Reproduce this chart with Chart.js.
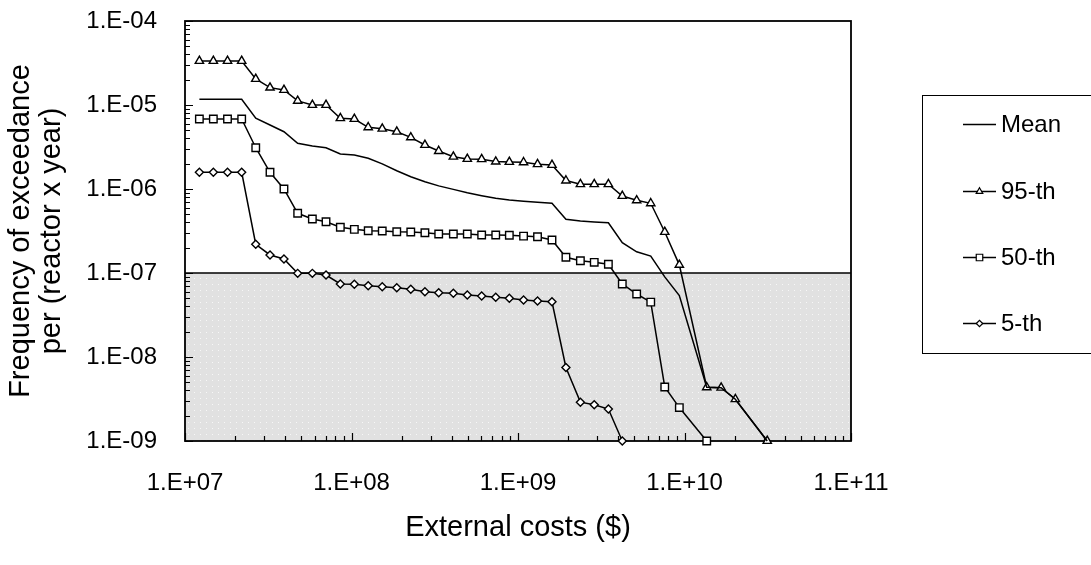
<!DOCTYPE html>
<html><head><meta charset="utf-8">
<script src="https://cdn.jsdelivr.net/npm/chart.js@4.4.1/dist/chart.umd.min.js"></script>
<style>html,body{margin:0;padding:0;background:#fff}#wrap{width:1091px;height:565px;position:relative}</style>
</head><body><div id="wrap"><canvas id="c" width="1091" height="565"></canvas></div>
<script>
// External costs ($) – shared x values of the points
const costs = [1.22e7, 1.48e7, 1.80e7, 2.19e7, 2.66e7, 3.24e7, 3.93e7, 4.75e7, 5.82e7, 7.03e7,
  8.57e7, 1.04e8, 1.26e8, 1.53e8, 1.87e8, 2.27e8, 2.76e8, 3.34e8, 4.09e8, 4.96e8,
  6.05e8, 7.35e8, 8.87e8, 1.08e9, 1.31e9, 1.60e9, 1.94e9, 2.37e9, 2.87e9, 3.49e9,
  4.23e9, 5.16e9, 6.27e9, 7.61e9, 9.31e9, 1.13e10, 1.36e10, 1.66e10, 2.02e10, 2.47e10, 3.14e10];
const mean = [1.17e-5, 1.17e-5, 1.17e-5, 1.17e-5, 6.95e-6, 5.78e-6, 4.81e-6, 3.50e-6, 3.25e-6, 3.10e-6,
  2.61e-6, 2.54e-6, 2.32e-6, 1.99e-6, 1.65e-6, 1.40e-6, 1.22e-6, 1.09e-6, 9.9e-7, 9.03e-7,
  8.32e-7, 7.74e-7, 7.39e-7, 7.14e-7, 6.95e-7, 6.76e-7, 4.36e-7, 4.16e-7, 4.05e-7, 3.97e-7,
  2.30e-7, 1.79e-7, 1.59e-7, 9.0e-8, 5.4e-8, null, 4.36e-9, 4.31e-9, 3.14e-9, null, 1.0e-9];
const p95 = [3.34e-5, 3.34e-5, 3.34e-5, 3.34e-5, 2.04e-5, 1.61e-5, 1.51e-5, 1.12e-5, 1.0e-5, 1.0e-5,
  6.95e-6, 6.81e-6, 5.43e-6, 5.22e-6, 4.81e-6, 4.12e-6, 3.34e-6, 2.83e-6, 2.42e-6, 2.28e-6,
  2.26e-6, 2.12e-6, 2.10e-6, 2.08e-6, 1.97e-6, 1.93e-6, 1.26e-6, 1.14e-6, 1.14e-6, 1.14e-6,
  8.26e-7, 7.33e-7, 6.76e-7, 3.08e-7, 1.25e-7, null, 4.36e-9, 4.31e-9, 3.14e-9, null, 1.0e-9];
const p50 = [6.81e-6, 6.81e-6, 6.81e-6, 6.81e-6, 3.10e-6, 1.58e-6, 1.0e-6, 5.14e-7, 4.39e-7, 4.08e-7,
  3.50e-7, 3.31e-7, 3.19e-7, 3.16e-7, 3.10e-7, 3.08e-7, 3.02e-7, 2.91e-7, 2.91e-7, 2.91e-7,
  2.83e-7, 2.83e-7, 2.81e-7, 2.75e-7, 2.70e-7, 2.47e-7, 1.54e-7, 1.40e-7, 1.34e-7, 1.27e-7,
  7.40e-8, 5.62e-8, 4.5e-8, 4.4e-9, 2.5e-9, null, 1.0e-9, null, null, null, null];
const p5 = [1.58e-6, 1.58e-6, 1.58e-6, 1.58e-6, 2.20e-7, 1.64e-7, 1.47e-7, 9.9e-8, 9.9e-8, 9.46e-8,
  7.40e-8, 7.35e-8, 7.06e-8, 6.86e-8, 6.68e-8, 6.40e-8, 5.99e-8, 5.83e-8, 5.75e-8, 5.47e-8,
  5.32e-8, 5.14e-8, 5.00e-8, 4.77e-8, 4.65e-8, 4.55e-8, 7.5e-9, 2.9e-9, 2.7e-9, 2.4e-9,
  1.0e-9, null, null, null, null, null, null, null, null, null, null];

const seriesNames = ['Mean', '95-th', '50-th', '5-th'];
const xTickValues = [1e7, 1e8, 1e9, 1e10, 1e11];
const xTickLabels = ['1.E+07', '1.E+08', '1.E+09', '1.E+10', '1.E+11'];
const yTickValues = [1e-9, 1e-8, 1e-7, 1e-6, 1e-5, 1e-4];
const yTickLabels = ['1.E-09', '1.E-08', '1.E-07', '1.E-06', '1.E-05', '1.E-04'];
const threshold = 1e-7;
const xTitle = 'External costs ($)';
const yTitle = ['Frequency of exceedance', 'per (reactor x year)'];

const FONT = '"Liberation Sans", Arial, sans-serif';

function pts(ys) {
  const out = [];
  costs.forEach((x, i) => { if (ys[i] !== null) out.push({x: x, y: ys[i]}); });
  return out;
}

function ds(label, ys, style, radius, legendRadius) {
  return {
    label: label, data: pts(ys), showLine: true, borderColor: '#000', borderWidth: 1.5,
    pointStyle: style, pointRadius: style ? radius : 0, pointHoverRadius: style ? radius : 0,
    pointBackgroundColor: '#fff', pointBorderColor: '#000', pointBorderWidth: 1.4,
    clip: false, tension: 0, spanGaps: true, legendRadius: legendRadius
  };
}

// dotted grey pattern for the region below the threshold
function makePattern(ctx) {
  const p = document.createElement('canvas');
  p.width = 6; p.height = 6;
  const g = p.getContext('2d');
  g.fillStyle = '#e1e1e1'; g.fillRect(0, 0, 6, 6);
  g.fillStyle = '#f7f7f7'; g.fillRect(2, 2, 1, 1);
  return ctx.createPattern(p, 'repeat');
}

const decorPlugin = {
  id: 'decor',
  beforeDatasetsDraw(chart) {
    const {ctx, chartArea: a, scales: {x, y}} = chart;
    ctx.save();
    const ty = y.getPixelForValue(threshold);
    ctx.fillStyle = makePattern(ctx);
    ctx.fillRect(a.left, ty, a.right - a.left, a.bottom - ty);
    ctx.strokeStyle = '#000';
    ctx.lineWidth = 1.5;
    ctx.beginPath(); ctx.moveTo(a.left, ty); ctx.lineTo(a.right, ty); ctx.stroke();
    // frame
    ctx.lineWidth = 1.8;
    ctx.strokeRect(a.left, a.top, a.right - a.left, a.bottom - a.top);
    // inside tick marks (major + minor) positioned by the scales
    ctx.lineWidth = 1.2;
    ctx.beginPath();
    for (let e = 7; e < 11; e++) {
      for (let m = 1; m <= 10; m++) {
        const px = Math.round(x.getPixelForValue(m * Math.pow(10, e))) + 0.5;
        const len = (m === 1 || m === 10) ? 8 : 5;
        ctx.moveTo(px, a.bottom); ctx.lineTo(px, a.bottom - len);
      }
    }
    for (let e = -9; e < -4; e++) {
      for (let m = 1; m <= 10; m++) {
        const py = Math.round(y.getPixelForValue(m * Math.pow(10, e))) + 0.5;
        const len = (m === 1 || m === 10) ? 8 : 5;
        ctx.moveTo(a.left, py); ctx.lineTo(a.left + len, py);
      }
    }
    ctx.stroke();
    ctx.restore();
  },
  afterDraw(chart) {
    const {ctx} = chart;
    ctx.save();
    // legend box
    ctx.strokeStyle = '#000';
    ctx.lineWidth = 1;
    ctx.strokeRect(922.5, 95.5, 200, 258);
    const rows = [124, 191, 257, 323];
    ctx.font = '24px ' + FONT;
    ctx.textBaseline = 'middle';
    ctx.textAlign = 'left';
    chart.data.datasets.forEach((d, i) => {
      const yy = rows[i] + 0.5;
      ctx.strokeStyle = '#000'; ctx.lineWidth = 1.4;
      ctx.beginPath(); ctx.moveTo(963, yy); ctx.lineTo(996, yy); ctx.stroke();
      if (d.pointStyle) {
        ctx.fillStyle = '#fff'; ctx.lineWidth = 1.2;
        Chart.helpers.drawPoint(ctx, {pointStyle: d.pointStyle, radius: d.legendRadius, borderWidth: 1.2, rotation: 0}, 979.5, yy);
      }
      ctx.fillStyle = '#000';
      ctx.fillText(d.label, 1001, rows[i] + 1);
    });
    ctx.restore();
  }
};

new Chart(document.getElementById('c'), {
  type: 'scatter',
  data: {
    datasets: [
      ds(seriesNames[0], mean, false, 0, 0),
      ds(seriesNames[1], p95, 'triangle', 4.8, 3.8),
      ds(seriesNames[2], p50, 'rect', 5.3, 4.6),
      ds(seriesNames[3], p5, 'rectRot', 4, 3.2)
    ]
  },
  options: {
    responsive: false, animation: false, devicePixelRatio: 1,
    layout: {padding: {left: 0, top: 21, right: 240, bottom: 0}},
    plugins: {legend: {display: false}, tooltip: {enabled: false}},
    scales: {
      x: {
        type: 'logarithmic', min: 1e7, max: 1e11,
        afterBuildTicks: s => { s.ticks = xTickValues.map(v => ({value: v})); },
        afterFit: s => { s.height = 124; s.paddingLeft = 0; s.paddingRight = 0; },
        grid: {display: false}, border: {display: false},
        ticks: {autoSkip: false, maxRotation: 0, padding: 20, color: '#000', font: {family: FONT, size: 24},
          callback: (v) => xTickLabels[xTickValues.findIndex(t => Math.abs(Math.log10(t) - Math.log10(v)) < 1e-6)] || ''},
        title: {display: true, text: xTitle, color: '#000', font: {family: FONT, size: 29, lineHeight: 1.05}, padding: {top: 0, bottom: 22}}
      },
      y: {
        type: 'logarithmic', min: 1e-9, max: 1e-4,
        afterBuildTicks: s => { s.ticks = yTickValues.map(v => ({value: v})); },
        afterFit: s => { s.width = 185; s.paddingTop = 0; s.paddingBottom = 0; },
        grid: {display: false}, border: {display: false},
        ticks: {autoSkip: false, padding: 20, color: '#000', font: {family: FONT, size: 24},
          callback: (v) => yTickLabels[yTickValues.findIndex(t => Math.abs(Math.log10(t) - Math.log10(v)) < 1e-6)] || ''},
        title: {display: true, text: yTitle, color: '#000', font: {family: FONT, size: 29, lineHeight: 1.05}, padding: {top: 6, bottom: 0}}
      }
    }
  },
  plugins: [decorPlugin]
});
</script>
</body></html>
